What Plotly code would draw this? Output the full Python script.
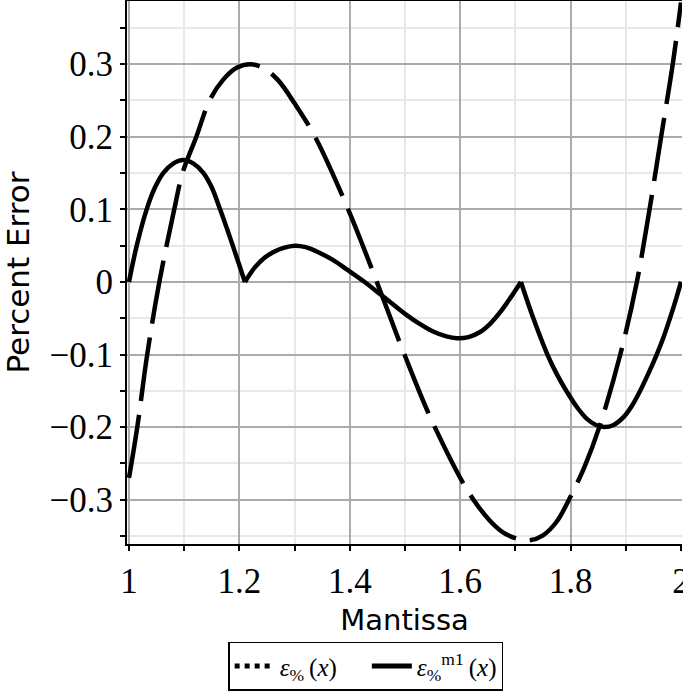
import plotly.graph_objects as go

# ---- data ----
dash_x = [1.000, 1.015, 1.033, 1.055, 1.082, 1.097, 1.122, 1.146, 1.170, 1.195,
          1.220, 1.245, 1.270, 1.300, 1.337, 1.397, 1.449, 1.499, 1.554, 1.624,
          1.672, 1.700, 1.725, 1.750, 1.775, 1.797, 1.825, 1.852, 1.890, 1.920,
          1.943, 1.964, 1.985, 2.000]
dash_y = [-0.270, -0.200, -0.100, 0.000, 0.100, 0.150, 0.200, 0.250, 0.278, 0.295,
          0.300, 0.294, 0.278, 0.246, 0.200, 0.100, 0.000, -0.100, -0.200, -0.300,
          -0.342, -0.353, -0.356, -0.349, -0.330, -0.300, -0.255, -0.200, -0.100, 0.000,
          0.100, 0.200, 0.300, 0.385]

# solid curve, three smooth pieces meeting at the cusps
solid_x1 = [1.000, 1.014, 1.032, 1.047, 1.062, 1.080, 1.098, 1.117, 1.135, 1.150,
            1.165, 1.188, 1.199, 1.210]
solid_y1 = [0.000, 0.050, 0.100, 0.130, 0.150, 0.163, 0.168, 0.163, 0.150, 0.130,
            0.100, 0.050, 0.025, 0.000]
solid_x2 = [1.210, 1.228, 1.245, 1.261, 1.280, 1.300, 1.320, 1.343, 1.370, 1.395,
            1.425, 1.457, 1.500, 1.525, 1.550, 1.575, 1.594, 1.615, 1.636, 1.655,
            1.672, 1.690, 1.710]
solid_y2 = [0.000, 0.020, 0.033, 0.041, 0.047, 0.050, 0.048, 0.041, 0.030, 0.017,
            0.001, -0.018, -0.044, -0.057, -0.068, -0.075, -0.0775, -0.076, -0.069, -0.057,
            -0.042, -0.023, 0.000]
solid_x3 = [1.710, 1.7325, 1.758, 1.775, 1.793, 1.812, 1.830, 1.846, 1.862, 1.878,
            1.895, 1.910, 1.926, 1.941, 1.956, 1.968, 1.980, 1.990, 2.000]
solid_y3 = [0.000, -0.050, -0.100, -0.127, -0.151, -0.173, -0.189, -0.197, -0.200, -0.197,
            -0.187, -0.172, -0.150, -0.126, -0.100, -0.077, -0.050, -0.026, 0.000]

x_ticks = [1.0, 1.2, 1.4, 1.6, 1.8, 2.0]
x_ticktext = ["1", "1.2", "1.4", "1.6", "1.8", "2"]
y_ticks = [-0.3, -0.2, -0.1, 0.0, 0.1, 0.2, 0.3]
y_ticktext = ["\u22120.3", "\u22120.2", "\u22120.1", "0", "0.1", "0.2", "0.3"]

name_a = "<i>\u03b5</i><sub>%</sub>\u2009(<i>x</i>)\u2003"
name_b = "<i>\u03b5</i><sub>%</sub><sup>m1</sup>\u2009(<i>x</i>)"

sx = solid_x1 + [None] + solid_x2 + [None] + solid_x3
sy = solid_y1 + [None] + solid_y2 + [None] + solid_y3

fig = go.Figure()
fig.add_trace(go.Scatter(x=dash_x, y=dash_y, mode="lines", showlegend=False,
                         line=dict(color="black", width=4.5, dash="64px,14px",
                                   shape="spline", smoothing=1)))
fig.add_trace(go.Scatter(x=sx, y=sy, mode="lines", showlegend=False, connectgaps=False,
                         line=dict(color="black", width=4.5, shape="spline", smoothing=1)))
# legend entries
fig.add_trace(go.Scatter(x=[None], y=[None], mode="lines", name=name_a,
                         line=dict(color="black", width=5, dash="dot")))
fig.add_trace(go.Scatter(x=[None], y=[None], mode="lines", name=name_b,
                         line=dict(color="black", width=5)))

tickfont = dict(family="Liberation Serif", size=35, color="black")

fig.update_layout(
    width=683, height=692,
    margin=dict(l=127, r=1, t=1, b=141),
    paper_bgcolor="white", plot_bgcolor="white",
    showlegend=True,
    legend=dict(orientation="h", x=0.43, xanchor="center", y=-0.18, yanchor="top",
                bordercolor="black", borderwidth=1.5, bgcolor="white",
                font=dict(family="Liberation Serif", size=25, color="black"),
                itemwidth=40, tracegroupgap=0),
    xaxis=dict(range=[0.99638, 2.0018], tickvals=x_ticks, ticktext=x_ticktext,
               tickfont=tickfont, ticklabeloverflow="allow",
               showline=True, linecolor="black", linewidth=2,
               mirror=True, ticks="outside", ticklen=5, tickwidth=1.5, tickcolor="black",
               showgrid=True, gridcolor="#ababab", gridwidth=1.5, zeroline=False,
               minor=dict(dtick=0.1, tick0=1.0, showgrid=True, gridcolor="#e8e8e8",
                          gridwidth=1.5, ticks="outside", ticklen=5, tickcolor="black"),
               title=dict(text="Mantissa",
                          font=dict(family="DejaVu Sans", size=29, color="black"),
                          standoff=10),
               automargin=False),
    yaxis=dict(range=[-0.361, 0.387], tickvals=y_ticks, ticktext=y_ticktext,
               tickfont=tickfont, showline=True, linecolor="black", linewidth=2,
               ticks="outside", ticklen=5, tickwidth=1.5, tickcolor="black",
               showgrid=True, gridcolor="#ababab", gridwidth=1.5, zeroline=False,
               minor=dict(dtick=0.05, tick0=0.0, showgrid=True, gridcolor="#e8e8e8",
                          gridwidth=1.5, ticks="outside", ticklen=5, tickcolor="black"),
               title=dict(text="Percent Error",
                          font=dict(family="DejaVu Sans", size=31, color="black"),
                          standoff=12),
               automargin=False),
)

fig.write_html("out.html")
